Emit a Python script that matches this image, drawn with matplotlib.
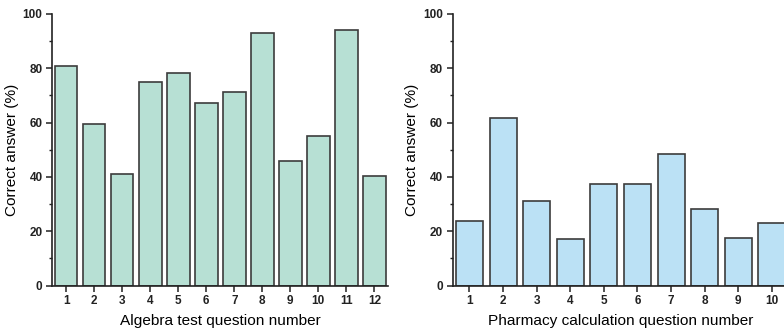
import numpy as np
import matplotlib.pyplot as plt
from matplotlib.ticker import MultipleLocator

plt.rcParams['font.family'] = ['Liberation Sans', 'DejaVu Sans']

# data
algebra_q = list(range(1, 13))
algebra_pct = [80.9, 59.5, 41.0, 75.1, 78.4, 67.2, 71.4, 93.1, 46.0, 55.0, 94.0, 40.5]
pharm_q = list(range(1, 11))
pharm_pct = [23.8, 61.8, 31.1, 17.2, 37.4, 37.4, 48.6, 28.3, 17.7, 23.0]

fig = plt.figure(figsize=(7.84, 3.31), dpi=100)
ax1 = fig.add_axes([0.0667, 0.137, 0.4286, 0.821])
ax2 = fig.add_axes([0.5774, 0.137, 0.4286, 0.821])


def draw(ax, q, pct, color, xlabel):
    ax.bar(q, pct, width=0.8, color=color, edgecolor='#3c3c3c', linewidth=1.2)
    ax.set_xlim(0.5, len(q) + 0.5)
    ax.set_ylim(0, 100)
    ax.set_xticks(q)
    ax.yaxis.set_major_locator(MultipleLocator(20))
    ax.yaxis.set_minor_locator(MultipleLocator(10))
    for s in ['top', 'right']:
        ax.spines[s].set_visible(False)
    for s in ['left', 'bottom']:
        ax.spines[s].set_linewidth(1.2)
        ax.spines[s].set_color('#222222')
    ax.tick_params(which='major', direction='out', length=4, width=1.1,
                   labelsize=8.5, pad=3, colors='#222222')
    ax.tick_params(which='minor', direction='out', length=2, width=1.0,
                   colors='#222222')
    for lab in ax.get_xticklabels() + ax.get_yticklabels():
        lab.set_fontweight('bold')
    ax.set_ylabel('Correct answer (%)', fontsize=11.1, labelpad=3)
    ax.set_xlabel(xlabel, fontsize=11.1, labelpad=5)


draw(ax1, algebra_q, algebra_pct, '#b7e0d4', 'Algebra test question number')
draw(ax2, pharm_q, pharm_pct, '#bbe1f5', 'Pharmacy calculation question number')

plt.savefig('out.png', dpi=100)
